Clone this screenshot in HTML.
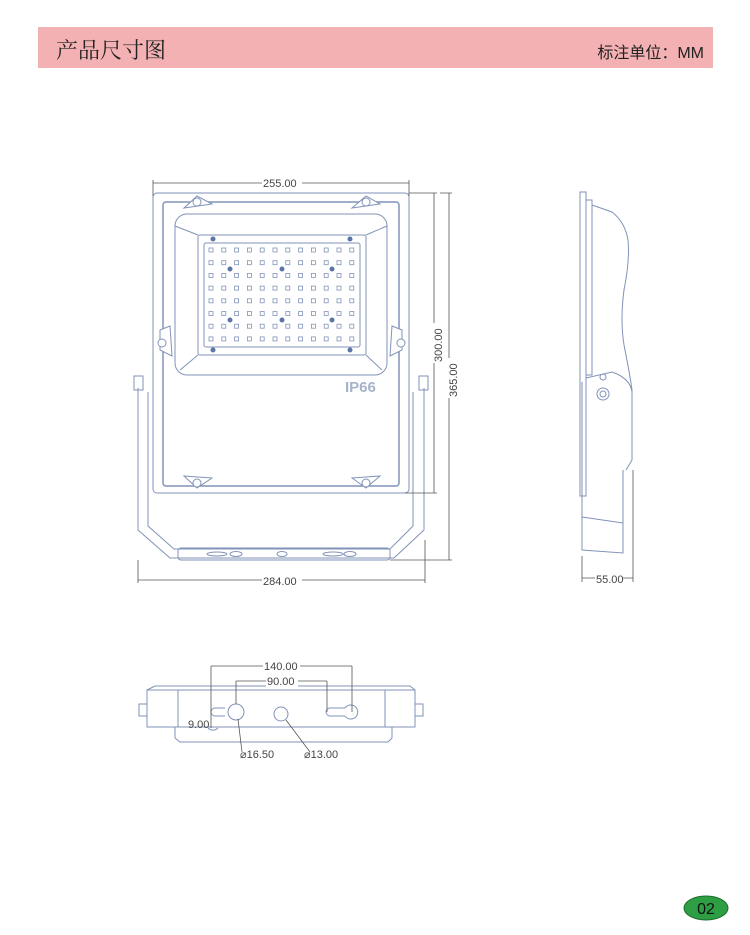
<!DOCTYPE html>
<html><head><meta charset="utf-8"><style>
body{margin:0;background:#fff;width:750px;height:935px;overflow:hidden;position:relative;font-family:"Liberation Sans","Noto Sans CJK SC",sans-serif}
.ban{position:absolute;left:38px;top:27px;width:675px;height:41px;background:#f4b1b3}
.t1{position:absolute;left:56px;top:34px;font-size:22px;color:#222;font-family:"Noto Serif CJK SC","Noto Sans CJK SC",serif}
.t2{position:absolute;right:46px;top:39px;font-size:16px;color:#222}
svg{position:absolute;left:0;top:0}
</style></head><body>
<div class="ban"></div><div class="t1">产品尺寸图</div><div class="t2">标注单位：MM</div>
<svg width="750" height="935" viewBox="0 0 750 935" fill="none" stroke="#8193b8" stroke-width="1">
<!-- front view -->
<path d="M138 388 V530 L170 558 H394 L424 530 V388" />
<path d="M148 392 V526 L174 549 H390 L413 526 V392" />
<rect x="134" y="376" width="9" height="14"/><rect x="419" y="376" width="9" height="14"/>
<rect x="153" y="193" width="256" height="300" rx="4"/>
<rect x="163" y="202" width="236" height="284" rx="3" stroke-width="1.5"/>
<rect x="175" y="214" width="212" height="161" rx="12"/>
<path d="M175 226 L198 235 M387 226 L366 235 M180 370 L198 355 M382 370 L366 355"/>
<rect x="198" y="235" width="168" height="120" rx="2"/>
<rect x="204" y="243" width="156" height="104" rx="2"/>
<g fill="#fff" stroke="#8193b8" stroke-width="0.8" id="g"></g>
<g fill="#5b76a6" stroke="none">
<circle cx="230" cy="269" r="2.5"/><circle cx="282" cy="269" r="2.5"/><circle cx="332" cy="269" r="2.5"/>
<circle cx="230" cy="320" r="2.5"/><circle cx="282" cy="320" r="2.5"/><circle cx="332" cy="320" r="2.5"/>
<circle cx="213" cy="239" r="2.5"/><circle cx="350" cy="239" r="2.5"/><circle cx="213" cy="350" r="2.5"/><circle cx="350" cy="350" r="2.5"/>
</g>
<g fill="#fff">
<path d="M184 208 L197 196 L212 204 Z"/><circle cx="197" cy="202" r="4"/>
<path d="M352 208 L366 196 L380 204 Z"/><circle cx="366" cy="202" r="4"/>
<path d="M184 476 L197 488 L212 478 Z"/><circle cx="197" cy="483" r="4"/>
<path d="M352 478 L366 488 L380 476 Z"/><circle cx="366" cy="483" r="4"/>
<path d="M160 330 L170 326 L172 356 L160 350 Z"/><circle cx="162" cy="343" r="4"/>
<path d="M402 330 L392 326 L390 356 L402 350 Z"/><circle cx="401" cy="343" r="4"/>
</g>
<text x="345" y="392" font-size="15" font-weight="bold" fill="#a6b3c8" stroke="none" font-family="Liberation Sans">IP66</text>
<rect x="178" y="548" width="212" height="12" rx="3"/>
<ellipse cx="217" cy="554" rx="10" ry="2"/><ellipse cx="236" cy="554" rx="6" ry="2.5"/>
<ellipse cx="282" cy="554" rx="5" ry="2.5"/><ellipse cx="333" cy="554" rx="10" ry="2"/><ellipse cx="350" cy="554" rx="6" ry="2.5"/>
<!-- dims front -->
<g stroke="#555" stroke-width="0.8">
<path d="M153 183 H409 M153 180 V196 M409 180 V196"/>
<path d="M409 193 H437 M405 493 H437 M434 193 V493"/>
<path d="M440 193 H452 M390 560 H452 M449 193 V560"/>
<path d="M138 580 H425 M138 560 V583 M425 540 V583"/>
</g>
<g fill="#444" stroke="none" font-size="11" font-family="Liberation Sans">
<rect x="262" y="176" width="40" height="12" fill="#fff"/><text x="263" y="187">255.00</text>
<rect x="262" y="574" width="40" height="12" fill="#fff"/><text x="263" y="585">284.00</text>
<g transform="translate(438,343) rotate(-90)"><rect x="-20" y="-6" width="40" height="12" fill="#fff"/><text x="-19" y="4">300.00</text></g>
<g transform="translate(453,378) rotate(-90)"><rect x="-20" y="-6" width="40" height="12" fill="#fff"/><text x="-19" y="4">365.00</text></g>
</g>
<!-- side view -->
<path d="M580 192 H586 V496 H580 Z"/>
<path d="M586 200 H592 V375 H586"/>
<path d="M592 205 L612 212 Q625 222 628 240 Q630 260 624 290 Q620 320 624 345 Q630 375 632 390 V460 L626 470"/>
<path d="M586 378 L612 372 Q630 378 632 392"/>
<circle cx="603" cy="394" r="6"/><circle cx="603" cy="394" r="3"/><circle cx="603" cy="377" r="3"/>
<path d="M582 382 V550 L623 553 V470"/><path d="M582 517 L623 523"/>
<g stroke="#555" stroke-width="0.8"><path d="M582 578 H633 M582 556 V582 M633 470 V582"/></g>
<rect x="595" y="572" width="28" height="12" fill="#fff" stroke="none"/>
<text x="596" y="583" font-size="11" fill="#444" stroke="none" font-family="Liberation Sans">55.00</text>
<!-- bottom view -->
<rect x="147" y="690" width="268" height="37"/>
<path d="M155 686 H410 M147 690 L155 686 M415 690 L410 686"/>
<path d="M178 690 V727 M385 690 V727"/>
<path d="M175 727 V738 L180 742 H388 L392 738 V727"/>
<rect x="139" y="704" width="8" height="12"/><rect x="415" y="704" width="8" height="12"/>
<circle cx="236" cy="712" r="8"/><circle cx="281" cy="714" r="7"/>
<path d="M215 708 H225 M215 716 H225 M215 708 A4 4 0 0 0 215 716"/>
<path d="M330 708 H345 M330 716 H345 M330 708 A4 4 0 0 0 330 716 M345 708 A7 7 0 1 1 345 716"/>
<path d="M208 728 A7 7 0 0 0 218 728"/>
<g stroke="#555" stroke-width="0.8">
<path d="M211 666 H352 M211 666 V718 M352 666 V712"/>
<path d="M236 681 H327 M236 681 V704 M327 681 V712"/>
<path d="M238 719 L242 752 M286 720 L310 752"/>
<path d="M211 718 V728"/>
</g>
<g fill="#444" stroke="none" font-size="11" font-family="Liberation Sans">
<rect x="263" y="660" width="37" height="12" fill="#fff"/><text x="264" y="670">140.00</text>
<rect x="266" y="675" width="32" height="12" fill="#fff"/><text x="267" y="685">90.00</text>
<text x="188" y="728">9.00</text>
<text x="240" y="758">⌀16.50</text><text x="304" y="758">⌀13.00</text>
</g>
<ellipse cx="706" cy="908" rx="22" ry="12" fill="#2e9e44" stroke="#1d6b2c"/>
<text x="706" y="914" font-size="16" text-anchor="middle" fill="#111" stroke="none" font-family="Liberation Sans">02</text>
</svg>
<script>
var g=document.getElementById('g'),s='';
for(var r=0;r<8;r++)for(var c=0;c<12;c++){var x=211+c*12.8,y=250+r*12.7;s+='<rect x="'+(x-2)+'" y="'+(y-2)+'" width="4" height="4"/>';}
g.innerHTML=s;
</script>
</body></html>
